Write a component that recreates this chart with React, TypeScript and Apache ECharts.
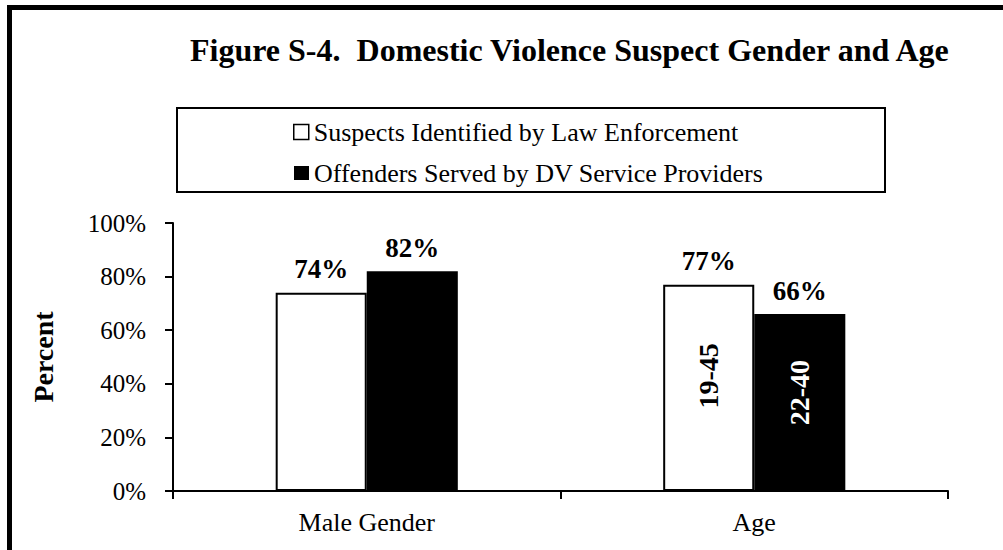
import React, { useEffect, useRef } from "react";
import * as echarts from "echarts";

const categories = ["Male Gender", "Age"];
const seriesNames = ["Suspects Identified by Law Enforcement", "Offenders Served by DV Service Providers"];
const suspects = [74, 77];
const offenders = [82, 66];
const suspectAgeRange = "19-45";
const offenderAgeRange = "22-40";
const yTicks = [0, 20, 40, 60, 80, 100];

const FONT = "Liberation Serif";

export default function App() {
  const ref = useRef<HTMLDivElement>(null);
  useEffect(() => {
    if (!ref.current) return;
    const chart = echarts.init(ref.current, null, { renderer: "svg" });
    const ageIdx = categories.indexOf("Age");
    const rangeLabel = {
      show: true,
      position: "inside",
      rotate: 90,
      formatter: "{b}",
      fontFamily: FONT,
      fontWeight: "bold",
      fontSize: 28,
    };
    const legendText = { fontFamily: FONT, fontWeight: "normal", fontSize: 26, color: "#000" };
    chart.setOption({
      animation: false,
      backgroundColor: "#fff",
      textStyle: { fontFamily: FONT, color: "#000" },
      title: {
        text: "Figure S-4.\u00a0\u00a0Domestic Violence Suspect Gender and Age",
        left: 190,
        top: 34,
        padding: 0,
        textStyle: { fontFamily: FONT, fontWeight: "bold", fontSize: 32, color: "#000" },
      },
      legend: [
        {
          data: [seriesNames[0]],
          left: 293,
          top: 119,
          padding: 0,
          itemWidth: 15,
          itemHeight: 15,
          icon: "rect",
          itemStyle: { borderColor: "#000", borderWidth: 1.5 },
          textStyle: legendText,
        },
        {
          data: [seriesNames[1]],
          left: 294,
          top: 160,
          padding: 0,
          itemWidth: 15,
          itemHeight: 14,
          icon: "rect",
          itemStyle: { borderColor: "#000", borderWidth: 0 },
          textStyle: legendText,
        },
      ],
      graphic: [
        {
          type: "polyline",
          shape: { points: [[9.5, 560], [9.5, 7.5], [1010, 7.5]] },
          style: { stroke: "#000", lineWidth: 5, fill: "none" },
          silent: true,
        },
        {
          type: "rect",
          shape: { x: 177, y: 108, width: 708, height: 84 },
          style: { stroke: "#000", lineWidth: 2, fill: "none" },
          silent: true,
        },
      ],
      grid: { left: 173, right: 55, top: 223, bottom: 59, containLabel: false },
      xAxis: {
        type: "category",
        data: categories,
        axisLine: { lineStyle: { color: "#000", width: 2 } },
        axisTick: { show: true, length: 8, lineStyle: { color: "#000", width: 2 } },
        axisLabel: { fontFamily: FONT, fontWeight: "normal", fontSize: 26, color: "#000", margin: 18 },
      },
      yAxis: {
        type: "value",
        min: yTicks[0],
        max: yTicks[yTicks.length - 1],
        interval: 20,
        name: "Percent",
        nameLocation: "middle",
        nameRotate: 90,
        nameGap: 116,
        nameTextStyle: { fontFamily: FONT, fontWeight: "bold", fontSize: 28, color: "#000" },
        splitLine: { show: false },
        axisLine: { show: true, lineStyle: { color: "#000", width: 2 } },
        axisTick: { show: true, length: 8, lineStyle: { color: "#000", width: 2 } },
        axisLabel: { fontFamily: FONT, fontWeight: "normal", fontSize: 25, color: "#000", margin: 27, formatter: "{value}%" },
      },
      series: [
        {
          name: seriesNames[0],
          type: "bar",
          data: suspects,
          barGap: "0%",
          barCategoryGap: "53%",
          itemStyle: { color: "#fff", borderColor: "#000", borderWidth: 2 },
          label: {
            show: true,
            position: "top",
            distance: 10,
            formatter: "{c}%",
            fontFamily: FONT,
            fontWeight: "bold",
            fontSize: 27,
            color: "#000",
          },
          markPoint: {
            symbol: "rect",
            symbolSize: 1,
            itemStyle: { color: "rgba(0,0,0,0)" },
            label: { ...rangeLabel, color: "#000", offset: [12, 0] },
            data: [{ name: suspectAgeRange, coord: [ageIdx, suspects[ageIdx] / 2] }],
          },
        },
        {
          name: seriesNames[1],
          type: "bar",
          data: offenders,
          itemStyle: { color: "#000" },
          label: {
            show: true,
            position: "top",
            distance: 10,
            formatter: "{c}%",
            fontFamily: FONT,
            fontWeight: "bold",
            fontSize: 27,
            color: "#000",
          },
          markPoint: {
            symbol: "rect",
            symbolSize: 1,
            itemStyle: { color: "rgba(0,0,0,0)" },
            label: { ...rangeLabel, color: "#fff", offset: [10, 0] },
            data: [{ name: offenderAgeRange, coord: [ageIdx, offenders[ageIdx] / 2] }],
          },
        },
      ],
    });
    return () => chart.dispose();
  }, []);
  return (
    <div
      ref={ref}
      style={{ position: "fixed", left: 0, top: 0, width: 1003, height: 550, background: "#fff" }}
    />
  );
}
